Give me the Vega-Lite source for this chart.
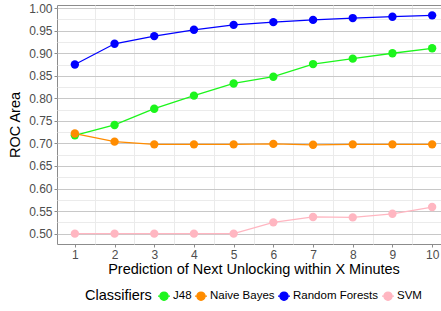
{
  "$schema": "https://vega.github.io/schema/vega-lite/v6.json",
  "autosize": "none",
  "width": 393,
  "height": 239,
  "padding": {"left": 57, "top": 5, "right": 0, "bottom": 67},
  "background": "white",
  "config": {
    "font": "Liberation Sans",
    "view": {"stroke": "#8c8c8c", "strokeWidth": 1}
  },
  "data": {
    "values": [
      {"x": 1, "roc": 0.718, "Classifier": "J48"},
      {"x": 2, "roc": 0.741, "Classifier": "J48"},
      {"x": 3, "roc": 0.777, "Classifier": "J48"},
      {"x": 4, "roc": 0.806, "Classifier": "J48"},
      {"x": 5, "roc": 0.833, "Classifier": "J48"},
      {"x": 6, "roc": 0.848, "Classifier": "J48"},
      {"x": 7, "roc": 0.876, "Classifier": "J48"},
      {"x": 8, "roc": 0.888, "Classifier": "J48"},
      {"x": 9, "roc": 0.900, "Classifier": "J48"},
      {"x": 10, "roc": 0.911, "Classifier": "J48"},
      {"x": 1, "roc": 0.722, "Classifier": "Naive Bayes"},
      {"x": 2, "roc": 0.704, "Classifier": "Naive Bayes"},
      {"x": 3, "roc": 0.698, "Classifier": "Naive Bayes"},
      {"x": 4, "roc": 0.698, "Classifier": "Naive Bayes"},
      {"x": 5, "roc": 0.698, "Classifier": "Naive Bayes"},
      {"x": 6, "roc": 0.699, "Classifier": "Naive Bayes"},
      {"x": 7, "roc": 0.697, "Classifier": "Naive Bayes"},
      {"x": 8, "roc": 0.698, "Classifier": "Naive Bayes"},
      {"x": 9, "roc": 0.698, "Classifier": "Naive Bayes"},
      {"x": 10, "roc": 0.698, "Classifier": "Naive Bayes"},
      {"x": 1, "roc": 0.875, "Classifier": "Random Forests"},
      {"x": 2, "roc": 0.921, "Classifier": "Random Forests"},
      {"x": 3, "roc": 0.938, "Classifier": "Random Forests"},
      {"x": 4, "roc": 0.952, "Classifier": "Random Forests"},
      {"x": 5, "roc": 0.963, "Classifier": "Random Forests"},
      {"x": 6, "roc": 0.969, "Classifier": "Random Forests"},
      {"x": 7, "roc": 0.974, "Classifier": "Random Forests"},
      {"x": 8, "roc": 0.978, "Classifier": "Random Forests"},
      {"x": 9, "roc": 0.981, "Classifier": "Random Forests"},
      {"x": 10, "roc": 0.984, "Classifier": "Random Forests"},
      {"x": 1, "roc": 0.5, "Classifier": "SVM"},
      {"x": 2, "roc": 0.5, "Classifier": "SVM"},
      {"x": 3, "roc": 0.5, "Classifier": "SVM"},
      {"x": 4, "roc": 0.5, "Classifier": "SVM"},
      {"x": 5, "roc": 0.5, "Classifier": "SVM"},
      {"x": 6, "roc": 0.525, "Classifier": "SVM"},
      {"x": 7, "roc": 0.537, "Classifier": "SVM"},
      {"x": 8, "roc": 0.536, "Classifier": "SVM"},
      {"x": 9, "roc": 0.544, "Classifier": "SVM"},
      {"x": 10, "roc": 0.559, "Classifier": "SVM"}
    ]
  },
  "encoding": {
    "x": {
      "field": "x", "type": "quantitative",
      "scale": {"domain": [0.55, 10.45], "nice": false, "zero": false},
      "axis": {
        "title": "Prediction of Next Unlocking within X Minutes",
        "values": [1, 1.5, 2, 2.5, 3, 3.5, 4, 4.5, 5, 5.5, 6, 6.5, 7, 7.5, 8, 8.5, 9, 9.5, 10],
        "labelExpr": "datum.value % 1 == 0 ? format(datum.value, 'd') : ''",
        "gridColor": {"condition": {"test": "datum.value % 1 == 0", "value": "transparent"}, "value": "#ebebeb"},
        "tickColor": {"condition": {"test": "datum.value % 1 == 0", "value": "#8c8c8c"}, "value": "transparent"},
        "domain": false,
        "tickSize": 3,
        "labelFontSize": 12,
        "labelColor": "#4d4d4d",
        "labelPadding": 2,
        "titleFontSize": 14.5,
        "titleFontWeight": "normal",
        "titleColor": "black",
        "titlePadding": 2
      }
    },
    "y": {
      "field": "roc", "type": "quantitative",
      "scale": {"domain": [0.477, 1.007], "nice": false, "zero": false},
      "axis": {
        "title": "ROC Area",
        "values": [0.5, 0.525, 0.55, 0.575, 0.6, 0.625, 0.65, 0.675, 0.7, 0.725, 0.75, 0.775, 0.8, 0.825, 0.85, 0.875, 0.9, 0.925, 0.95, 0.975, 1.0],
        "labelExpr": "round(datum.value*1000) % 50 == 0 ? format(datum.value, '.2f') : ''",
        "gridColor": {"condition": {"test": "round(datum.value*1000) % 50 == 0", "value": "#c8c8c8"}, "value": "#ebebeb"},
        "tickColor": {"condition": {"test": "round(datum.value*1000) % 50 == 0", "value": "#8c8c8c"}, "value": "transparent"},
        "domain": false,
        "tickSize": 3,
        "labelFontSize": 12,
        "labelColor": "#4d4d4d",
        "labelPadding": 2,
        "titleFontSize": 14.5,
        "titleFontWeight": "normal",
        "titleColor": "black",
        "titlePadding": 6
      }
    },
    "color": {
      "field": "Classifier", "type": "nominal",
      "scale": {
        "domain": ["J48", "Naive Bayes", "Random Forests", "SVM"],
        "range": ["#1cf51c", "#ff8c00", "#0000ff", "#ffb6c1"]
      },
      "legend": {
        "title": "Classifiers",
        "orient": "none",
        "legendX": 28,
        "legendY": 284,
        "direction": "horizontal",
        "titleOrient": "left",
        "titleFontSize": 14.5,
        "titleFontWeight": "normal",
        "titleColor": "black",
        "titlePadding": 5,
        "labelFontSize": 11.5,
        "labelColor": "black",
        "symbolType": "M-1,0L1,0M0.68,0A0.68,0.68,0,1,1,-0.68,0A0.68,0.68,0,1,1,0.68,0Z",
        "symbolSize": 144,
        "symbolStrokeWidth": 1.3,
        "columnPadding": 0,
        "labelOffset": 2
      }
    }
  },
  "layer": [
    {"mark": {"type": "line", "strokeWidth": 1.3}},
    {"mark": {"type": "circle", "size": 70, "opacity": 1}}
  ]
}
